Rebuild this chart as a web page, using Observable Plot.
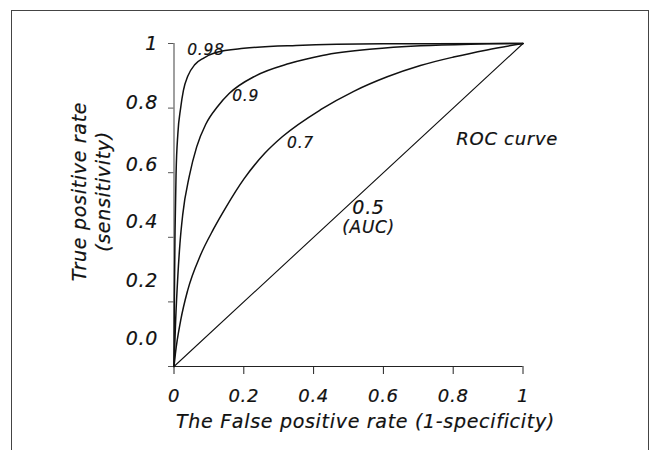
<!DOCTYPE html>
<html>
<head>
<meta charset="utf-8">
<script src="https://cdn.jsdelivr.net/npm/d3@7"></script>
<script src="https://cdn.jsdelivr.net/npm/@observablehq/plot@0.6"></script>
<style>
  html, body { margin: 0; padding: 0; background: #fff; }
  #wrap { position: relative; width: 653px; height: 450px; overflow: hidden; background: #fff; }
  #border { position: absolute; left: 11px; top: 10px; width: 638px; height: 480px; border: 1.5px solid #444; box-sizing: border-box; }
  #chart { position: absolute; left: 0; top: 0; }
  #chart svg text { letter-spacing: 0.7px; stroke: #111; stroke-width: 0.2px; paint-order: stroke; }
</style>
</head>
<body>
<div id="wrap"><div id="border"></div><div id="chart"></div></div>
<script>
// ROC curves: [false positive rate, true positive rate]
const auc098 = [[0,0],[0.001,0.2],[0.003,0.42],[0.006,0.6],[0.011,0.72],[0.019,0.80],[0.027,0.855],[0.04,0.9],[0.06,0.935],[0.085,0.955],[0.12,0.972],[0.2,0.985],[0.35,0.994],[0.6,0.999],[1,1]];
const auc090 = [[0,0],[0.005,0.15],[0.011,0.28],[0.017,0.38],[0.025,0.47],[0.044,0.59],[0.065,0.68],[0.091,0.75],[0.125,0.805],[0.158,0.845],[0.234,0.9],[0.33,0.938],[0.425,0.963],[0.569,0.983],[0.706,0.993],[0.85,0.998],[1,1]];
const auc070 = [[0,0],[0.004,0.04],[0.019,0.142],[0.039,0.235],[0.076,0.345],[0.113,0.425],[0.15,0.495],[0.2,0.58],[0.26,0.66],[0.311,0.712],[0.42,0.795],[0.515,0.852],[0.611,0.897],[0.706,0.932],[0.801,0.958],[0.897,0.98],[1,1]];
const auc050 = [[0,0],[1,1]];

const xTicks = [0, 0.2, 0.4, 0.6, 0.8, 1];
const xTickLabels = ["0", "0.2", "0.4", "0.6", "0.8", "1"];
const yTicks = [0, 0.2, 0.4, 0.6, 0.8, 1];
const yTickLabels = ["0.0", "0.2", "0.4", "0.6", "0.8", "1"];
// in the original the y tick labels sit a little above their ticks (evenly spaced, tighter)
const yTickLabelAt = [0.086, 0.264, 0.449, 0.625, 0.816, 0.998];

const xTitle = "The False positive rate (1-specificity)";
const yTitle = "True positive rate\n(sensitivity)";

// annotation labels placed in data coordinates
const curveLabels = [
  {text: "0.98", x: 0.038, y: 0.981, size: 15.5},
  {text: "0.9", x: 0.167, y: 0.836, size: 15.5},
  {text: "0.7", x: 0.324, y: 0.692, size: 15.5},
  {text: "ROC curve", x: 0.809, y: 0.704, size: 18},
  {text: "0.5", x: 0.511, y: 0.492, size: 19},
  {text: "(AUC)", x: 0.482, y: 0.43, size: 17}
];

const curves = [auc098, auc090, auc070];

const font = "'DejaVu Sans', Verdana, sans-serif";

const plot = Plot.plot({
  width: 653,
  height: 450,
  marginLeft: 173.5,
  marginRight: 130.5,
  marginTop: 43,
  marginBottom: 84,
  style: {fontFamily: font, fontStyle: "italic", background: "transparent", color: "#111", overflow: "visible"},
  x: {domain: [0, 1]},
  y: {domain: [0, 1]},
  marks: [
    Plot.ruleX([0], {y1: 0, y2: 1, stroke: "#888", strokeWidth: 1.6}),
    Plot.ruleY([0], {x1: 0, x2: 1, stroke: "#222", strokeWidth: 1.2}),
    Plot.axisY({ticks: yTicks, tickSize: 5.5, text: null, stroke: "#555", label: null}),
    Plot.axisX({ticks: xTicks, tickSize: 8, text: null, stroke: "#222", label: null}),
    Plot.text(yTickLabels, {x: () => 0, y: (d, i) => yTickLabelAt[i], text: d => d, textAnchor: "end", lineAnchor: "middle", dx: -16, fontSize: 19, fill: "#111"}),
    Plot.text(xTickLabels, {x: (d, i) => xTicks[i], frameAnchor: "bottom", text: d => d, textAnchor: "middle", lineAnchor: "middle", dy: 30, fontSize: 18, fill: "#111"}),
    Plot.line(auc050, {x: d => d[0], y: d => d[1], stroke: "#111", strokeWidth: 1.1}),
    ...curves.map(c => Plot.line(c, {x: d => d[0], y: d => d[1], stroke: "#111", strokeWidth: 1.5, curve: "monotone-x"})),
    ...curveLabels.map(l => Plot.text([l], {x: "x", y: "y", text: "text", textAnchor: "start", fontSize: l.size, fill: "#111"})),
    Plot.text([yTitle], {frameAnchor: "left", textAnchor: "middle", lineAnchor: "middle", rotate: -90, dx: -83.5, dy: -13.5, fontSize: 19, lineHeight: 1.25, fill: "#111"}),
    Plot.text([xTitle], {frameAnchor: "bottom", lineAnchor: "middle", dx: 17, dy: 55, fontSize: 19, fill: "#111"})
  ]
});
document.getElementById("chart").appendChild(plot);
</script>
</body>
</html>
